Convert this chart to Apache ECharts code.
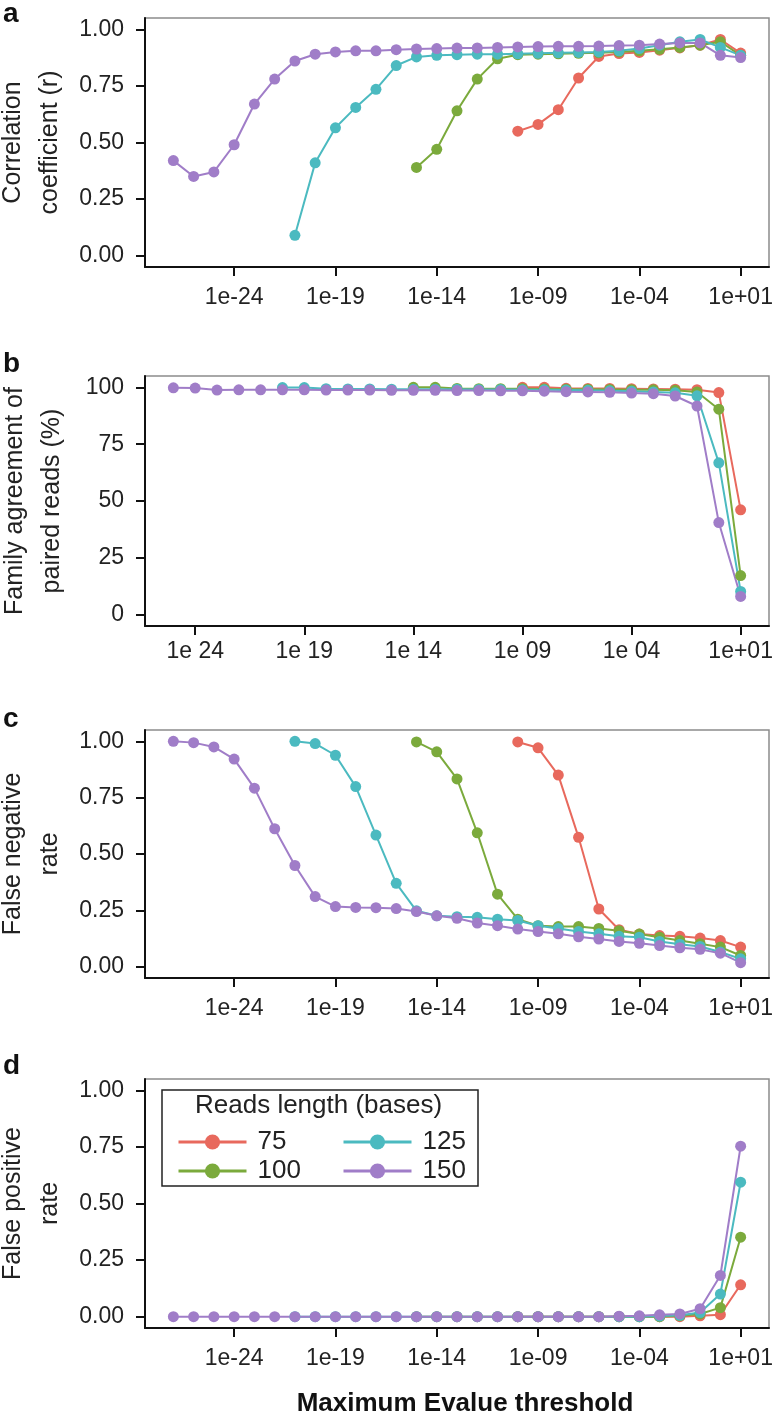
<!DOCTYPE html>
<html>
<head>
<meta charset="utf-8">
<script src="https://cdn.jsdelivr.net/npm/echarts@6.0.0/dist/echarts.min.js"></script>
<style>
  html, body { margin: 0; padding: 0; background: #fff; }
  #chart { width: 773px; height: 1416px; }
</style>
</head>
<body>
<div id="chart"></div>
<script>
// log10 of the Evalue threshold for every point
const expA = [-27, -26, -25, -24, -23, -22, -21, -20, -19, -18, -17, -16, -15, -14, -13, -12, -11, -10, -9, -8, -7, -6, -5, -4, -3, -2, -1, 0, 1];
const expB = [-25, -24, -23, -22, -21, -20, -19, -18, -17, -16, -15, -14, -13, -12, -11, -10, -9, -8, -7, -6, -5, -4, -3, -2, -1, 0, 1];

// tick positions (log10) and their labels
const tickExp = [-24, -19, -14, -9, -4, 1];
const tickLabels = ['1e-24', '1e-19', '1e-14', '1e-09', '1e-04', '1e+01'];
const tickLabelsB = ['1e 24', '1e 19', '1e 14', '1e 09', '1e 04', '1e+01'];
const rateTicks = [0, 0.25, 0.5, 0.75, 1];
const pctTicks = [0, 25, 50, 75, 100];

const readLengths = ['75', '100', '125', '150'];
const colors = ['#E8695D', '#7BAA3C', '#4BBAC0', '#A07DC8'];

// a: correlation coefficient (on expA)
const corr75 = [null, null, null, null, null, null, null, null, null, null, null, null, null, null, null, null, null,
  0.55, 0.58, 0.645, 0.785, 0.88, 0.893, 0.898, 0.908, 0.918, 0.93, 0.955, 0.895];
const corr100 = [null, null, null, null, null, null, null, null, null, null, null, null,
  0.39, 0.47, 0.64, 0.78, 0.87, 0.888, 0.89, 0.892, 0.894, 0.896, 0.9, 0.905, 0.912, 0.92, 0.93, 0.945, 0.885];
const corr125 = [null, null, null, null, null, null,
  0.09, 0.41, 0.565, 0.655, 0.735, 0.84, 0.878, 0.885, 0.888, 0.89, 0.89, 0.892, 0.894, 0.896, 0.898, 0.9, 0.905, 0.915, 0.93, 0.945, 0.955, 0.92, 0.885];
const corr150 = [0.42, 0.35, 0.37, 0.49, 0.67, 0.78, 0.86, 0.89, 0.9, 0.905, 0.905, 0.91, 0.913, 0.915, 0.917, 0.918, 0.92, 0.922, 0.924, 0.925, 0.925, 0.926, 0.928, 0.93, 0.935, 0.94, 0.94, 0.885, 0.875];

// b: family agreement of paired reads, % (on expB)
const agree75 = [null, null, null, null, null, null, null, null, null, null, null, null, null, null, null, null,
  100, 100, 99.6, 99.5, 99.5, 99.4, 99.3, 99.2, 99.0, 97.7, 46.1];
const agree100 = [null, null, null, null, null, null, null, null, null, null, null,
  100, 100, 99.5, 99.4, 99.4, 99.4, 99.3, 99.2, 99.2, 99.1, 99.0, 98.9, 98.7, 98.0, 90.4, 17.2];
const agree125 = [null, null, null, null, null,
  99.9, 99.9, 99.4, 99.3, 99.3, 99.2, 99.2, 99.2, 99.2, 99.1, 99.1, 99.0, 98.9, 98.8, 98.7, 98.5, 98.3, 98.0, 97.6, 96.3, 66.8, 10.2];
const agree150 = [99.8, 99.7, 98.8, 98.9, 98.9, 98.9, 98.9, 98.8, 98.8, 98.8, 98.7, 98.7, 98.7, 98.6, 98.6, 98.5, 98.5, 98.3, 98.1, 98.0, 97.8, 97.5, 97.2, 96.2, 91.8, 40.5, 8.0];

// c: false negative rate (on expA)
const fnr75 = [null, null, null, null, null, null, null, null, null, null, null, null, null, null, null, null, null,
  0.997, 0.971, 0.85, 0.574, 0.256, 0.164, 0.145, 0.138, 0.135, 0.127, 0.116, 0.087];
const fnr100 = [null, null, null, null, null, null, null, null, null, null, null, null,
  0.997, 0.953, 0.833, 0.594, 0.322, 0.211, 0.182, 0.178, 0.178, 0.17, 0.16, 0.145, 0.131, 0.116, 0.102, 0.087, 0.05];
const fnr125 = [null, null, null, null, null, null,
  1.0, 0.99, 0.938, 0.799, 0.584, 0.37, 0.248, 0.226, 0.222, 0.219, 0.211, 0.205, 0.182, 0.17, 0.156, 0.146, 0.135, 0.131, 0.112, 0.1, 0.09, 0.065, 0.035];
const fnr150 = [1.0, 0.994, 0.975, 0.921, 0.792, 0.612, 0.449, 0.311, 0.267, 0.263, 0.262, 0.258, 0.245, 0.226, 0.215, 0.194, 0.182, 0.167, 0.156, 0.146, 0.133, 0.123, 0.112, 0.104, 0.094, 0.084, 0.077, 0.06, 0.018];

// d: false positive rate (on expA)
const fpr75 = [null, null, null, null, null, null, null, null, null, null, null, null, null, null, null, null, null,
  0, 0, 0, 0, 0, 0, 0, 0, 0, 0.004, 0.009, 0.141];
const fpr100 = [null, null, null, null, null, null, null, null, null, null, null, null,
  0, 0, 0, 0, 0, 0, 0, 0, 0, 0, 0, 0, 0, 0.004, 0.012, 0.04, 0.351];
const fpr125 = [null, null, null, null, null, null,
  0, 0, 0, 0, 0, 0, 0, 0, 0, 0, 0, 0, 0, 0, 0, 0, 0, 0, 0.003, 0.006, 0.018, 0.1, 0.594];
const fpr150 = [0, 0, 0, 0, 0, 0, 0, 0, 0, 0, 0, 0, 0, 0, 0, 0, 0, 0, 0, 0, 0, 0, 0.002, 0.004, 0.008, 0.012, 0.035, 0.182, 0.753];

const FONT = 'Liberation Sans, Arial, Helvetica, sans-serif';
const panels = [
  { top: 18, height: 249, exp: expA, labels: tickLabels, xr: [-28.4, 2.4], yr: [-0.05, 1.05], yTicks: rateTicks,
    name: 'Correlation\ncoefficient (r)', sets: [corr75, corr100, corr125, corr150] },
  { top: 376, height: 250, exp: expB, labels: tickLabelsB, xr: [-26.3, 2.3], yr: [-5, 105], yTicks: pctTicks,
    name: 'Family agreement of\npaired reads (%)', sets: [agree75, agree100, agree125, agree150] },
  { top: 730, height: 248, exp: expA, labels: tickLabels, xr: [-28.4, 2.4], yr: [-0.05, 1.05], yTicks: rateTicks,
    name: 'False negative\nrate', sets: [fnr75, fnr100, fnr125, fnr150] },
  { top: 1079, height: 249, exp: expA, labels: tickLabels, xr: [-28.4, 2.4], yr: [-0.05, 1.05], yTicks: rateTicks,
    name: 'False positive\nrate', sets: [fpr75, fpr100, fpr125, fpr150] }
];

const grid = [], xAxis = [], yAxis = [], series = [];
panels.forEach((p, k) => {
  grid.push({ left: 145, right: 4, top: p.top, height: p.height, show: true,
    borderColor: '#8c8c8c', borderWidth: 1.5, backgroundColor: '#fff', containLabel: false, outerBoundsMode: 'none' });
  xAxis.push({
    type: 'value', gridIndex: k, min: p.xr[0], max: p.xr[1],
    axisLine: { onZero: false, lineStyle: { color: '#111', width: 2 } },
    axisTick: { customValues: tickExp, length: 9, lineStyle: { color: '#111', width: 2 } },
    axisLabel: { customValues: tickExp, margin: k === 1 ? 14 : 19, fontSize: 23, color: '#222', fontFamily: FONT,
      formatter: v => p.labels[tickExp.indexOf(Math.round(v))] },
    splitLine: { show: false },
    name: k === 3 ? 'Maximum Evalue threshold' : '',
    nameLocation: 'middle', nameGap: 63,
    nameTextStyle: { fontSize: 26, fontWeight: 'bold', color: '#111', fontFamily: FONT, padding: [0, 0, 0, 16] }
  });
  yAxis.push({
    type: 'value', gridIndex: k, min: p.yr[0], max: p.yr[1],
    axisLine: { onZero: false, lineStyle: { color: '#111', width: 2 } },
    axisTick: { customValues: p.yTicks, length: 9, lineStyle: { color: '#111', width: 2 } },
    axisLabel: { customValues: p.yTicks, margin: 21, fontSize: 23, color: '#222', fontFamily: FONT,
      formatter: v => (k === 1 ? String(Math.round(v)) : v.toFixed(2)) },
    splitLine: { show: false },
    name: p.name, nameLocation: 'middle', nameGap: 74,
    nameTextStyle: { fontSize: 25, lineHeight: 37, color: '#222', fontFamily: FONT }
  });
  p.sets.forEach((vals, s) => {
    series.push({
      type: 'line', name: readLengths[s], xAxisIndex: k, yAxisIndex: k,
      symbol: 'circle', symbolSize: 11, color: colors[s],
      lineStyle: { width: 2 },
      data: p.exp.map((e, i) => [e, vals[i]]).filter(d => d[1] !== null)
    });
  });
});

const legendCommon = {
  orient: 'vertical', top: 1124, itemWidth: 68, itemHeight: 19, itemGap: 3, z: 20,
  lineStyle: { width: 3 },
  textStyle: { fontSize: 26, color: '#222', fontFamily: FONT, padding: [0, 0, 0, 6] },
  selectedMode: false
};

const chart = echarts.init(document.getElementById('chart'));
chart.setOption({
  animation: false,
  backgroundColor: '#fff',
  grid: grid,
  xAxis: xAxis,
  yAxis: yAxis,
  series: series,
  legend: [
    Object.assign({ left: 172, data: ['75', '100'] }, legendCommon),
    Object.assign({ left: 337, data: ['125', '150'] }, legendCommon)
  ],
  graphic: [
    // panel letters
    { type: 'text', left: 3, top: 0, style: { text: 'a', font: 'bold 28px ' + FONT, fill: '#111' } },
    { type: 'text', left: 3, top: 350, style: { text: 'b', font: 'bold 28px ' + FONT, fill: '#111' } },
    { type: 'text', left: 3, top: 705, style: { text: 'c', font: 'bold 28px ' + FONT, fill: '#111' } },
    { type: 'text', left: 3, top: 1052, style: { text: 'd', font: 'bold 28px ' + FONT, fill: '#111' } },
    // legend frame and title
    { type: 'rect', shape: { x: 162, y: 1090, width: 316, height: 96 }, z: 1,
      style: { fill: 'none', stroke: '#222', lineWidth: 1.5 } },
    { type: 'text', left: 195, top: 1093, z: 1, style: { text: 'Reads length (bases)', font: '26px ' + FONT, fill: '#222' } }
  ]
});
</script>
</body>
</html>
